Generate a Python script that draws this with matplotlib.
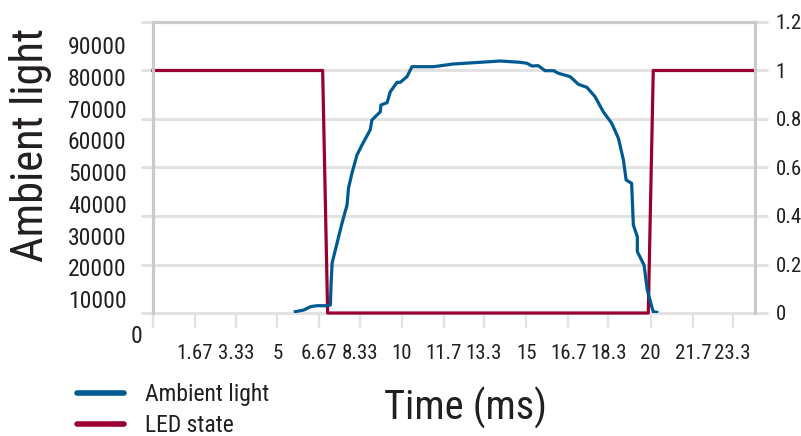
import matplotlib
matplotlib.use("Agg")
import matplotlib.pyplot as plt
from matplotlib import font_manager
from matplotlib.lines import Line2D

# ---- data ----
time_ms = [5.72, 6.06, 6.33, 6.59, 7.00, 7.13, 7.16, 7.20, 7.40, 7.60, 7.80, 7.86, 8.00, 8.20,
           8.40, 8.73, 8.80, 9.14, 9.16, 9.41, 9.54, 9.81, 9.94, 10.21, 10.41, 11.28, 12.07,
           13.15, 13.96, 14.76, 15.03, 15.23, 15.49, 15.76, 16.10, 16.30, 16.77, 17.10, 17.44,
           17.77, 18.10, 18.44, 18.71, 18.91, 19.02, 19.24, 19.31, 19.47, 19.47, 19.74, 19.87,
           20.05, 20.11, 20.25]
ambient = [6000, 6535, 7575, 7890, 7890, 8110, 15040, 21340, 27640, 33940, 39610, 44960, 49690,
           55350, 58500, 63230, 66380, 68990, 71100, 71830, 75290, 78250, 78250, 80020, 83170,
           83170, 84020, 84550, 84960, 84550, 84240, 83390, 83480, 81910, 81910, 81090, 80020,
           77620, 76680, 73720, 68990, 65340, 60610, 53780, 47480, 46440, 33310, 29620, 24900,
           20710, 12830, 7575, 6000, 5810]

led_time = [0, 6.82, 7.02, 19.91, 20.11, 24.2]
led_state = [1, 1, 0, 0, 1, 1]

x_ticks = [0, 1.67, 3.33, 5, 6.67, 8.33, 10, 11.7, 13.3, 15, 16.7, 18.3, 20, 21.7, 23.3]
x_labels = ["", "1.67", "3.33", "5", "6.67", "8.33", "10", "11.7", "13.3", "15", "16.7",
            "18.3", "20", "21.7", "23.3"]
left_ticks = [10000, 20000, 30000, 40000, 50000, 60000, 70000, 80000, 90000]
right_ticks = [0, 0.2, 0.4, 0.6, 0.8, 1, 1.2]
right_labels = ["0", "0.2", "0.4", "0.6", "0.8", "1", "1.2"]

# ---- font ----
avail = {f.name for f in font_manager.fontManager.ttflist}
fam = "DejaVu Sans"
for cand in ["Liberation Sans Narrow", "Roboto Condensed", "Open Sans Condensed", "Roboto", "Liberation Sans"]:
    if cand in avail:
        fam = cand
        break
plt.rcParams["font.family"] = [fam, "DejaVu Sans"]

BLUE = "#005a92"
RED = "#990030"
TXT = "#231f20"
SPINE = "#cacaca"
GRID = "#e2e2e2"

fig = plt.figure(figsize=(8.01, 4.36), dpi=100)
W, H = 801, 436
L, R, T, B = 153, 755, 22, 313
rect = [L / W, 1 - B / H, (R - L) / W, (B - T) / H]

ax2 = fig.add_axes(rect)          # LED state axis (right labels, grid)
ax = ax2.twinx()                  # ambient axis (left labels)
ax.yaxis.tick_left()
ax2.yaxis.tick_right()
ax.patch.set_visible(False)

ax2.set_xlim(0, 24.2)
ax2.set_ylim(0, 1.2)
ax.set_ylim(5591, 97244)

ax2.set_yticks(right_ticks)
ax2.set_yticklabels(right_labels)
ax2.grid(axis="y", color=GRID, linewidth=2.2)
ax2.set_axisbelow(True)
ax2.tick_params(axis="y", which="both", right=True, left=True, length=0, pad=6,
                labelsize=15, labelcolor=TXT, labelright=True, labelleft=False)

ax2.plot(led_time, led_state, color=RED, linewidth=2.3, zorder=3, clip_on=False)
ax.plot(time_ms, ambient, color=BLUE, linewidth=2.3, zorder=3)

ax.set_yticks(left_ticks)
ax.set_yticklabels([f"{v}" for v in left_ticks])
ax.tick_params(axis="y", length=0, pad=19, labelsize=17, labelcolor=TXT,
               left=True, right=False, labelleft=True, labelright=False)
ax.text(-0.017, -1874, "0", transform=ax.get_yaxis_transform(), ha="right", va="center",
        fontsize=17, color=TXT, clip_on=False)

ax2.set_xticks(x_ticks)
ax2.set_xticklabels(x_labels)
ax2.tick_params(axis="x", length=11, width=1.6, color=GRID, pad=11, labelsize=15,
                labelcolor=TXT)
ax.tick_params(axis="x", bottom=False, labelbottom=False)

ax2.tick_params(axis="y", left=True, length=9, width=2.2, color=GRID)

for a in (ax, ax2):
    for s in a.spines.values():
        s.set_color(SPINE)
        s.set_linewidth(2.2)
ax.spines["bottom"].set_visible(False)
ax2.spines["bottom"].set_color(GRID)

fig.text(31 / W, 1 - 145 / H, "Ambient light", rotation=90, ha="center", va="center",
         fontsize=32, color=TXT)
fig.text(465 / W, 1 - 408 / H, "Time (ms)", ha="center", va="center", fontsize=29, color=TXT)

handles = [Line2D([], [], color=BLUE, linewidth=4, solid_capstyle="round"),
           Line2D([], [], color=RED, linewidth=4, solid_capstyle="round")]
fig.legend(handles, ["Ambient light", "LED state"], loc="center left",
           bbox_to_anchor=(77 / W, 1 - 410 / H), frameon=False, fontsize=17,
           handlelength=2.0, handletextpad=0.9, labelspacing=0.32, borderpad=0,
           borderaxespad=0, labelcolor=TXT)

fig.savefig("out.png", dpi=100)
